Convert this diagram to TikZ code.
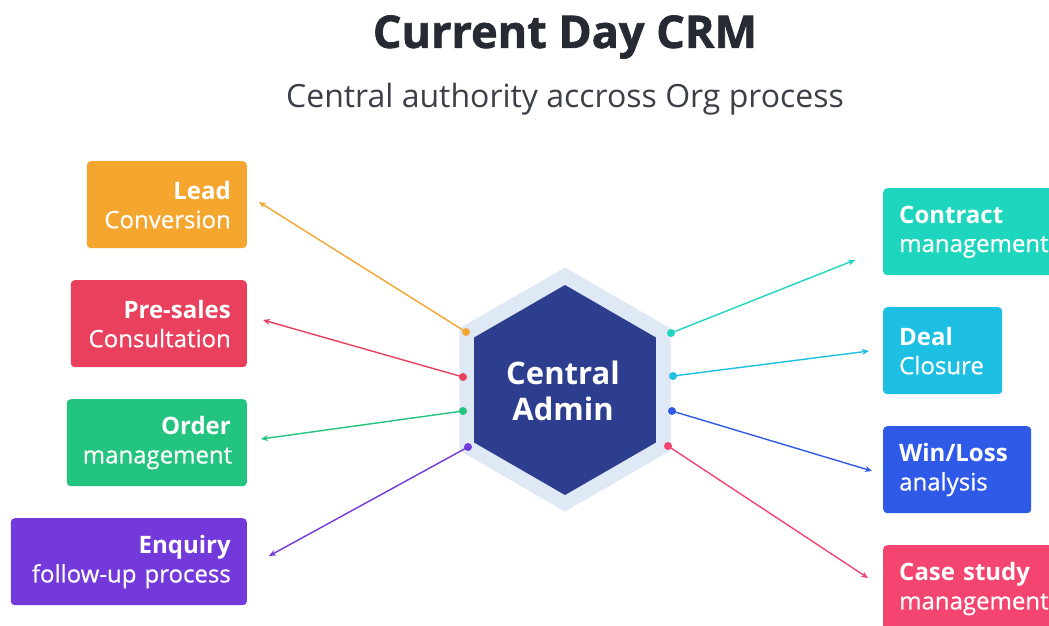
\documentclass[tikz,border=0pt]{standalone}
\usepackage{fontspec}
\setmainfont{Open Sans}
\usetikzlibrary{arrows.meta}
\definecolor{cOrange}{HTML}{F5A62F}
\definecolor{cRed}{HTML}{E8405D}
\definecolor{cGreen}{HTML}{22C47F}
\definecolor{cPurple}{HTML}{7339DB}
\definecolor{cTeal}{HTML}{1ED6BE}
\definecolor{cCyan}{HTML}{1DBFE2}
\definecolor{cBlue}{HTML}{2F5AE8}
\definecolor{cPink}{HTML}{F3456F}
\definecolor{cDark}{HTML}{2D3E8F}
\definecolor{cLight}{HTML}{DFE9F5}
\definecolor{cTitle}{HTML}{262A33}
\newcommand{\medline}[1]{{\addfontfeature{FakeBold=0.6}#1}}
\begin{document}
\begin{tikzpicture}[x=1pt,y=-1pt,
  lbox/.style={rounded corners=4pt, inner xsep=16pt, inner ysep=0pt, minimum height=87pt,
     align=right, text=white, font=\fontsize{24}{29}\selectfont, anchor=north east},
  rbox/.style={rounded corners=4pt, inner xsep=16pt, inner ysep=0pt, minimum height=87pt,
     align=left, text=white, font=\fontsize{24}{29}\selectfont, anchor=north west},
  dot/.style={circle, inner sep=0pt, minimum size=8pt},
  conn/.style={line width=1.4pt, -{Stealth[length=7pt,width=6pt]}}]
\useasboundingbox (0,0) rectangle (1049,625);
\fill[white] (0,0) rectangle (1049,625);
% titles
\node[text=cTitle, font=\fontsize{45}{50}\selectfont\bfseries\addfontfeature{FakeBold=1.5}] (title) at (565,37) {Current Day CRM};
\node[text=cTitle!90, font=\fontsize{32}{36}\selectfont] (sub) at (565,99) {Central authority accross Org process};
% hexagon
\fill[cLight] (565,267.5) -- ++(30:122) -- ++(90:122) -- ++(150:122) -- ++(210:122) -- ++(270:122) -- cycle;
\fill[cDark] (565,285) -- ++(30:105) -- ++(90:105) -- ++(150:105) -- ++(210:105) -- ++(270:105) -- cycle;
\node[text=white, align=center, font=\fontsize{31}{36}\selectfont\bfseries] (admin) at (563,391) {Central\\Admin};
% left boxes
\node[lbox, fill=cOrange, text width=128pt] (lead) at (247,161) {\textbf{Lead}\\\medline{Conversion}};
\node[lbox, fill=cRed, text width=144pt] (pre) at (247,280) {\textbf{Pre-sales}\\\medline{Consultation}};
\node[lbox, fill=cGreen, text width=148pt] (order) at (247,399) {\textbf{Order}\\\medline{management}};
\node[lbox, fill=cPurple, text width=204pt] (enq) at (247,518) {\textbf{Enquiry}\\\medline{follow-up process}};
% right boxes
\node[rbox, fill=cTeal, text width=160pt] (contract) at (883,188) {\textbf{Contract}\\\medline{management}};
\node[rbox, fill=cCyan, text width=87pt] (deal) at (883,307) {\textbf{Deal}\\\medline{Closure}};
\node[rbox, fill=cBlue, text width=116pt] (win) at (883,426) {\textbf{Win/Loss}\\\medline{analysis}};
\node[rbox, fill=cPink, text width=160pt] (case) at (883,545) {\textbf{Case study}\\\medline{management}};
% dots
\node[dot, fill=cOrange] (d1) at (466,332) {};
\node[dot, fill=cRed] (d2) at (463,377) {};
\node[dot, fill=cGreen] (d3) at (463,411) {};
\node[dot, fill=cPurple] (d4) at (468,447) {};
\node[dot, fill=cTeal] (d5) at (671,333) {};
\node[dot, fill=cCyan] (d6) at (673,376) {};
\node[dot, fill=cBlue] (d7) at (672,411) {};
\node[dot, fill=cPink] (d8) at (668,446) {};
% arrow ends
\coordinate (e1) at (259,202);
\coordinate (e2) at (263,320);
\coordinate (e3) at (261,439);
\coordinate (e4) at (269,556);
\coordinate (e5) at (855,260);
\coordinate (e6) at (869,351);
\coordinate (e7) at (872,471);
\coordinate (e8) at (868,578);
\draw[conn, cOrange] (d1.center) -- (e1);
\draw[conn, cRed] (d2.center) -- (e2);
\draw[conn, cGreen] (d3.center) -- (e3);
\draw[conn, cPurple] (d4.center) -- (e4);
\draw[conn, cTeal] (d5.center) -- (e5);
\draw[conn, cCyan] (d6.center) -- (e6);
\draw[conn, cBlue] (d7.center) -- (e7);
\draw[conn, cPink] (d8.center) -- (e8);
\end{tikzpicture}
\end{document}
